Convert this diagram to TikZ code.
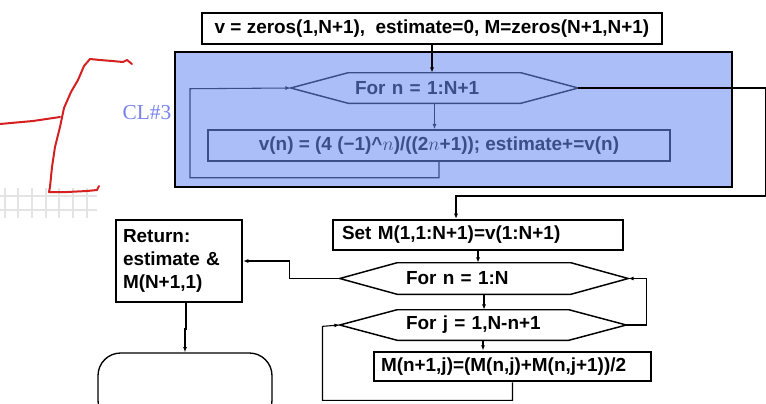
\documentclass[tikz,border=0pt]{standalone}
\usepackage{fontspec}
\setsansfont{Liberation Sans}
\newfontfamily\tagfont{Liberation Serif}
\usepackage{tikz}
\usetikzlibrary{arrows.meta}
\definecolor{loopblue}{RGB}{172,190,248}
\definecolor{inkblue}{RGB}{60,78,136}
\definecolor{tagblue}{RGB}{120,130,238}
\definecolor{penred}{RGB}{212,32,32}
\definecolor{gridgray}{RGB}{228,228,228}

\begin{document}
\begin{tikzpicture}[x=0.75pt,y=-0.75pt,>={Latex[length=4pt,width=3pt]},
  every node/.style={font=\sffamily\bfseries\fontsize{14.2}{16}\selectfont,inner sep=0pt},
  stepbox/.style={draw,line width=1.5pt,minimum height=22.5pt},
  hexbox/.style={minimum height=22.5pt,align=left},
  flow/.style={line width=0.8pt},
  pen/.style={penred,line width=1.5pt,line cap=round,line join=round}]
  \useasboundingbox (0,0) rectangle (766,403);

  % pen marks left of the loop
  \foreach \x in {5,18,32,46,59,73,87}
    \draw[gridgray,line width=0.8pt] (\x,188) -- (\x,218);
  \draw[gridgray,line width=0.8pt] (0,196) -- (97,196) (0,210) -- (97,210);
  \draw[pen] (90,59) -- (100,60) -- (112,61) -- (123,62) -- (127,60) -- (132,64);
  \draw[pen] (90,59) -- (84,66) -- (78,80) -- (71,92) -- (64,108) -- (60,127) -- (55,147)
    -- (52,167) -- (50,187) -- (49,192) -- (67,192) -- (87,191) -- (97,190) -- (99,186);
  \draw[pen] (0,124) -- (33,121) -- (60,117);

  \node[draw,line width=1.5pt,fill=loopblue,minimum width=417.75pt,minimum height=101.25pt]
    (loopbg) at (453.5,119.5) {};
  \node[text=tagblue,font=\tagfont\fontsize{16}{18}\selectfont] (tag) at (147,113) {CL\#3};

  \node[stepbox,minimum width=345pt,minimum height=23.25pt] (init) at (432,28.5)
    {v = zeros(1,N+1),\ \ estimate=0, M=zeros(N+1,N+1)};
  \node[hexbox,text=inkblue,inner xsep=48pt,text width=119.25pt] (forn) at (434.5,88) {For n = 1:N+1};
  \node[draw=inkblue,line width=1.1pt,text=inkblue,minimum width=346.5pt,minimum height=23.25pt]
    (vn) at (439,145.5) {v(n) = (4 (−1)\textasciicircum$n$)/((2$n$+1)); estimate+=v(n)};

  \node[stepbox,align=left,text width=204pt,inner xsep=6.75pt] (setrow) at (478,235)
    {Set M(1,1:N+1)=v(1:N+1)};
  \node[hexbox,inner xsep=49.5pt,text width=117pt,minimum height=23.25pt] (forrow) at (484,278.5) {For n = 1:N};
  \node[hexbox,inner xsep=49.5pt,text width=115.5pt] (forcol) at (483,325) {For j = 1,N-n+1};
  \node[stepbox,line width=2pt,align=left,text width=197.25pt,inner xsep=5.25pt,minimum height=21.75pt]
    (avg) at (512.5,366.5) {M(n+1,j)=(M(n,j)+M(n,j+1))/2};

  \node[stepbox,align=left,text width=84pt,inner xsep=5.25pt,minimum height=61.5pt,
    font=\sffamily\bfseries\fontsize{14.2}{17.25}\selectfont] (ret) at (179,261)
    {Return:\\estimate \&\\M(N+1,1)};
  \node[draw,line width=1pt,rounded corners=17pt,minimum width=130.5pt,minimum height=52.5pt]
    (stop) at (185,388) {};

  % hexagon outlines round the loop heads
  \foreach \h/\ink in {forn/inkblue,forrow/black,forcol/black}
    \draw[draw=\ink,line width=1.1pt] (\h.west) -- ([xshift=43pt]\h.north west)
      -- ([xshift=-43pt]\h.north east) -- (\h.east) -- ([xshift=-43pt]\h.south east)
      -- ([xshift=43pt]\h.south west) -- cycle;

  \draw[->,flow] (init) -- (init |- forn.north);
  \draw[->,flow,inkblue] (forn) -- (forn |- vn.north);
  \draw[->,flow,inkblue] (vn.south) -- ++(0,16) -| ++(-249,-89) -- (forn.west);
  \draw[->,flow] (forn.east) -| ++(187,108) -| ([xshift=-16.5pt]setrow.north);
  \draw[->,flow] (setrow) -- (setrow |- forrow.north);
  \draw[->,flow] (forrow.south) -- (forrow.south |- forcol.north);
  \draw[->,flow] (forcol.south) -- (forcol.south |- avg.north);
  \draw[->,flow] (avg.south) -- ++(0,18) -| ++(-190,-74) -- (forcol.west);
  \draw[->,flow] (forcol.east) -- ++(20,0) |- (forrow.east);
  \draw[->,flow] (forrow.west) -- ++(-50,0) |- (ret.east);
  \draw[->,flow] ([xshift=5.25pt]ret.south) -- ++(0,26) -| (stop.north);
\end{tikzpicture}
\end{document}
